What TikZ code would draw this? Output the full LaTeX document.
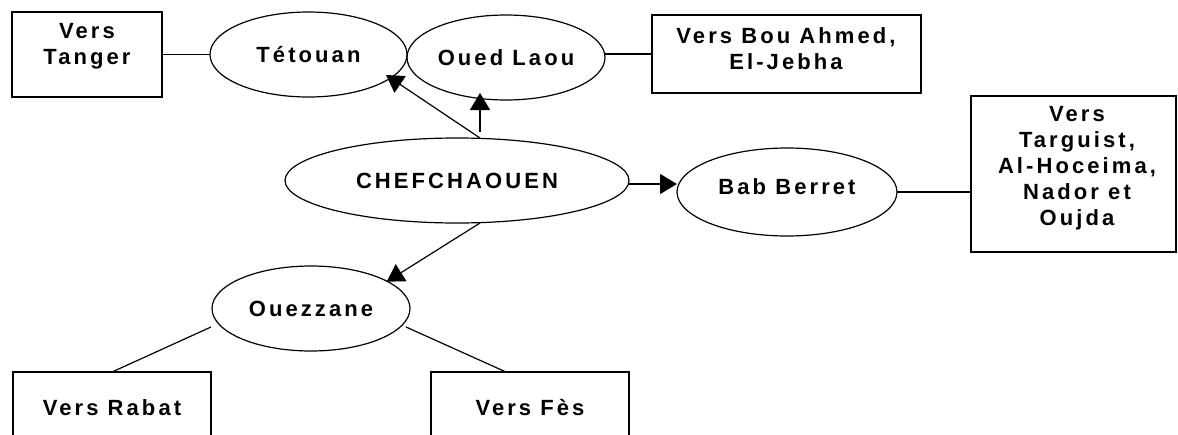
\documentclass[tikz,border=0pt]{standalone}
\usepackage{fontspec}
\setmainfont{Liberation Sans}
\newfontfamily\labfont[LetterSpace=14]{Liberation Sans}
\usetikzlibrary{shapes.geometric,arrows.meta}
\begin{document}
\begin{tikzpicture}[x=1pt,y=-1pt,line width=1.2pt,
  every node/.style={font=\labfont\bfseries\fontsize{22}{26}\selectfont},
  city/.style={draw,ellipse,inner sep=0pt,outer sep=0pt},
  frame/.style={draw,rectangle,inner sep=0pt,outer sep=0pt},
  txt/.style={align=center,inner sep=0pt},
  arr/.style={-{Triangle[length=17pt,width=20pt]}}]
\useasboundingbox (0,0) rectangle (1178,434);
\clip (0,0) rectangle (1178,434);
% nodes
\node[frame,minimum width=150pt,minimum height=85pt] (tanger) at (87,54.5) {};
\node[txt] (tangerT) at (87,46) {Vers\\Tanger};
\node[city,minimum width=197pt,minimum height=85pt] (tet) at (308.5,54.5) {Tétouan};
\node[city,minimum width=198pt,minimum height=85pt] (oued) at (506,57.5) {Oued Laou};
\node[frame,minimum width=269pt,minimum height=78pt] (bou) at (786.5,54) {};
\node[txt] (bouT) at (786,49) {Vers Bou Ahmed,\\El-Jebha};
\node[city,minimum width=344pt,minimum height=85pt] (chef) at (457,180.5) {CHEFCHAOUEN};
\node[city,minimum width=220pt,minimum height=88pt] (bab) at (787,192) {};
\node[txt] (babT) at (787,187) {Bab Berret};
\node[frame,minimum width=205pt,minimum height=156pt] (targ) at (1073.5,174) {};
\node[txt] (targT) at (1077,168) {Vers\\Targuist,\\Al-Hoceima,\\Nador et\\Oujda};
\node[city,minimum width=198pt,minimum height=85pt] (ouez) at (311,308.5) {Ouezzane};
\node[frame,minimum width=198pt,minimum height=100pt] (rabat) at (112,422) {};
\node[txt] (rabatT) at (112,408) {Vers Rabat};
\node[frame,minimum width=198pt,minimum height=100pt] (fes) at (530,422) {};
\node[txt] (fesT) at (530,408) {Vers Fès};
% plain links
\draw (tanger.east) -- (tet.west);
\draw (bou.west) -- (bou.west -| oued.east);
\draw (bab.east) -- (bab.east -| targ.west);
\draw ([xshift=-100pt,yshift=-18.5pt]ouez.center) -- (rabat.north);
\draw ([xshift=95pt,yshift=-18.5pt]ouez.center) -- ([xshift=-24pt]fes.north);
% arrows
\draw[arr] ([xshift=23pt]chef.north) -- ([xshift=77.5pt,yshift=-20.5pt]tet.center);
\draw[arr] ([xshift=23pt,yshift=6pt]chef.north) -- ([xshift=-26pt,yshift=7pt]oued.south);
\draw[arr] ([yshift=-3.5pt]chef.east) -- ([yshift=-3.5pt]chef.east -| bab.west);
\draw[arr] ([xshift=23pt]chef.south) -- ([xshift=75.7pt,yshift=26.8pt]ouez.center);
\end{tikzpicture}
\end{document}
